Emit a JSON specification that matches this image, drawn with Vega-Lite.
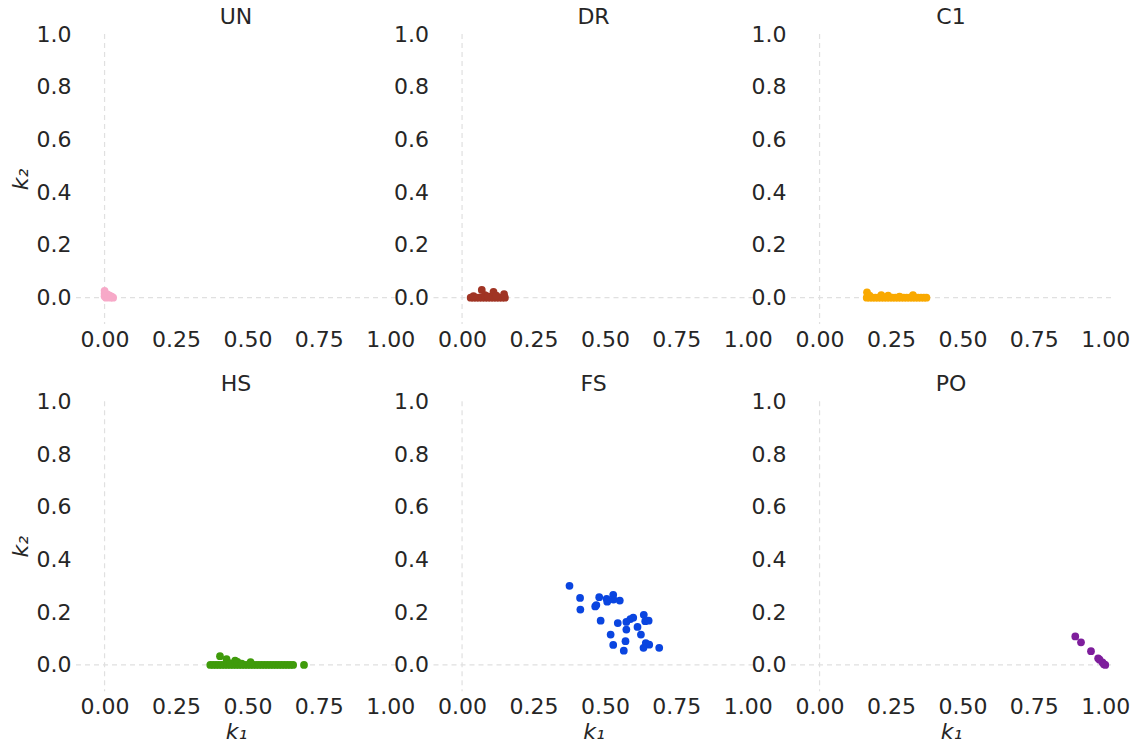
{
  "$schema": "https://vega.github.io/schema/vega-lite/v6.json",
  "background": "white",
  "padding": {"left": 9, "top": 6, "right": 5, "bottom": 3},
  "config": {
    "view": {"stroke": null},
    "font": "DejaVu Sans",
    "axis": {"domain": false, "ticks": false, "grid": false, "labelFont": "DejaVu Sans", "labelFontSize": 22, "labelColor": "#262626", "labelPadding": 5, "titleFont": "DejaVu Sans", "titleFontSize": 22, "titleFontStyle": "italic", "titleFontWeight": "normal", "titleColor": "#262626", "titlePadding": 4},
    "title": {"font": "DejaVu Sans", "fontSize": 22, "fontWeight": "normal", "color": "#262626", "anchor": "middle", "frame": "group", "offset": -6}
  },
  "datasets": {
    "pts": [
      {"g":"UN","k1":0.000,"k2":0.026},{"g":"UN","k1":0.000,"k2":0.015},{"g":"UN","k1":0.000,"k2":0.005},{"g":"UN","k1":0.005,"k2":0.000},{"g":"UN","k1":0.010,"k2":0.012},{"g":"UN","k1":0.012,"k2":0.005},{"g":"UN","k1":0.018,"k2":0.008},{"g":"UN","k1":0.020,"k2":0.000},{"g":"UN","k1":0.025,"k2":0.004},{"g":"UN","k1":0.030,"k2":0.000},
      {"g":"DR","k1":0.03,"k2":0},{"g":"DR","k1":0.04,"k2":0},{"g":"DR","k1":0.05,"k2":0},{"g":"DR","k1":0.06,"k2":0},{"g":"DR","k1":0.07,"k2":0},{"g":"DR","k1":0.08,"k2":0},{"g":"DR","k1":0.09,"k2":0},{"g":"DR","k1":0.10,"k2":0},{"g":"DR","k1":0.11,"k2":0},{"g":"DR","k1":0.12,"k2":0},{"g":"DR","k1":0.13,"k2":0},{"g":"DR","k1":0.14,"k2":0},{"g":"DR","k1":0.15,"k2":0},
      {"g":"DR","k1":0.04,"k2":0.006},{"g":"DR","k1":0.069,"k2":0.029},{"g":"DR","k1":0.08,"k2":0.010},{"g":"DR","k1":0.09,"k2":0.005},{"g":"DR","k1":0.11,"k2":0.022},{"g":"DR","k1":0.12,"k2":0.008},{"g":"DR","k1":0.147,"k2":0.013},
      {"g":"C1","k1":0.165,"k2":0},{"g":"C1","k1":0.175,"k2":0},{"g":"C1","k1":0.185,"k2":0},{"g":"C1","k1":0.195,"k2":0},{"g":"C1","k1":0.205,"k2":0},{"g":"C1","k1":0.215,"k2":0},{"g":"C1","k1":0.225,"k2":0},{"g":"C1","k1":0.235,"k2":0},{"g":"C1","k1":0.245,"k2":0},{"g":"C1","k1":0.255,"k2":0},{"g":"C1","k1":0.265,"k2":0},{"g":"C1","k1":0.275,"k2":0},{"g":"C1","k1":0.285,"k2":0},{"g":"C1","k1":0.295,"k2":0},{"g":"C1","k1":0.305,"k2":0},{"g":"C1","k1":0.315,"k2":0},{"g":"C1","k1":0.325,"k2":0},{"g":"C1","k1":0.335,"k2":0},{"g":"C1","k1":0.345,"k2":0},{"g":"C1","k1":0.355,"k2":0},{"g":"C1","k1":0.365,"k2":0},{"g":"C1","k1":0.374,"k2":0},
      {"g":"C1","k1":0.166,"k2":0.020},{"g":"C1","k1":0.175,"k2":0.008},{"g":"C1","k1":0.216,"k2":0.010},{"g":"C1","k1":0.240,"k2":0.008},{"g":"C1","k1":0.280,"k2":0.004},{"g":"C1","k1":0.327,"k2":0.010},
      {"g":"HS","k1":0.37,"k2":0},{"g":"HS","k1":0.38,"k2":0},{"g":"HS","k1":0.39,"k2":0},{"g":"HS","k1":0.40,"k2":0},{"g":"HS","k1":0.41,"k2":0},{"g":"HS","k1":0.42,"k2":0},{"g":"HS","k1":0.43,"k2":0},{"g":"HS","k1":0.44,"k2":0},{"g":"HS","k1":0.45,"k2":0},{"g":"HS","k1":0.46,"k2":0},{"g":"HS","k1":0.47,"k2":0},{"g":"HS","k1":0.48,"k2":0},{"g":"HS","k1":0.49,"k2":0},{"g":"HS","k1":0.50,"k2":0},{"g":"HS","k1":0.51,"k2":0},{"g":"HS","k1":0.52,"k2":0},{"g":"HS","k1":0.53,"k2":0},{"g":"HS","k1":0.54,"k2":0},{"g":"HS","k1":0.55,"k2":0},{"g":"HS","k1":0.56,"k2":0},{"g":"HS","k1":0.57,"k2":0},{"g":"HS","k1":0.58,"k2":0},{"g":"HS","k1":0.59,"k2":0},{"g":"HS","k1":0.60,"k2":0},{"g":"HS","k1":0.61,"k2":0},{"g":"HS","k1":0.62,"k2":0},{"g":"HS","k1":0.63,"k2":0},{"g":"HS","k1":0.64,"k2":0},{"g":"HS","k1":0.65,"k2":0},{"g":"HS","k1":0.66,"k2":0},{"g":"HS","k1":0.698,"k2":0},
      {"g":"HS","k1":0.404,"k2":0.033},{"g":"HS","k1":0.427,"k2":0.022},{"g":"HS","k1":0.440,"k2":0.006},{"g":"HS","k1":0.457,"k2":0.016},{"g":"HS","k1":0.465,"k2":0.012},{"g":"HS","k1":0.480,"k2":0.005},{"g":"HS","k1":0.511,"k2":0.011},
      {"g":"FS","k1":0.376,"k2":0.300},{"g":"FS","k1":0.413,"k2":0.254},{"g":"FS","k1":0.414,"k2":0.210},{"g":"FS","k1":0.480,"k2":0.257},{"g":"FS","k1":0.470,"k2":0.227},{"g":"FS","k1":0.466,"k2":0.222},{"g":"FS","k1":0.506,"k2":0.251},{"g":"FS","k1":0.508,"k2":0.240},{"g":"FS","k1":0.529,"k2":0.266},{"g":"FS","k1":0.530,"k2":0.248},{"g":"FS","k1":0.552,"k2":0.244},{"g":"FS","k1":0.485,"k2":0.168},{"g":"FS","k1":0.545,"k2":0.159},{"g":"FS","k1":0.575,"k2":0.163},{"g":"FS","k1":0.589,"k2":0.174},{"g":"FS","k1":0.599,"k2":0.179},{"g":"FS","k1":0.636,"k2":0.190},{"g":"FS","k1":0.641,"k2":0.166},{"g":"FS","k1":0.653,"k2":0.168},{"g":"FS","k1":0.614,"k2":0.144},{"g":"FS","k1":0.575,"k2":0.134},{"g":"FS","k1":0.520,"k2":0.115},{"g":"FS","k1":0.626,"k2":0.115},{"g":"FS","k1":0.572,"k2":0.090},{"g":"FS","k1":0.529,"k2":0.076},{"g":"FS","k1":0.643,"k2":0.083},{"g":"FS","k1":0.655,"k2":0.077},{"g":"FS","k1":0.635,"k2":0.065},{"g":"FS","k1":0.566,"k2":0.054},{"g":"FS","k1":0.690,"k2":0.065},
      {"g":"PO","k1":0.895,"k2":0.108},{"g":"PO","k1":0.915,"k2":0.086},{"g":"PO","k1":0.950,"k2":0.052},{"g":"PO","k1":0.975,"k2":0.025},{"g":"PO","k1":0.980,"k2":0.020},{"g":"PO","k1":0.990,"k2":0.010},{"g":"PO","k1":0.995,"k2":0.003},{"g":"PO","k1":1.000,"k2":0.000}
    ],
    "one": [{"z": 0}]
  },
  "data": {"name": "pts"},
  "columns": 3,
  "spacing": {"row": 77.3, "column": 37.5},
  "bounds": "flush",
  "concat": [
    {"title": "UN", "width": 320, "height": 290,
     "encoding": {
        "x": {"type": "quantitative", "scale": {"domain": [-0.1, 1.02], "nice": false, "zero": false}, "axis": {"values": [0, 0.25, 0.5, 0.75, 1], "format": ".2f", "title": null}},
        "y": {"type": "quantitative", "scale": {"domain": [-0.1, 1.0], "nice": false, "zero": false}, "axis": {"values": [0, 0.2, 0.4, 0.6, 0.8, 1.0], "format": ".1f", "title": "k₂"}}},
     "layer": [
      {"data": {"name": "one"}, "mark": {"type": "rule", "color": "#e0e0e0", "strokeWidth": 1.2, "strokeDash": [5, 4]}, "encoding": {"x": {"field": "z"}}},
      {"data": {"name": "one"}, "mark": {"type": "rule", "color": "#e0e0e0", "strokeWidth": 1.2, "strokeDash": [5, 4]}, "encoding": {"y": {"field": "z"}}},
      {"transform": [{"filter": "datum.g == 'UN'"}], "mark": {"type": "circle", "size": 60, "opacity": 1}, "encoding": {"x": {"field": "k1"}, "y": {"field": "k2"}, "color": {"value": "#f7a9c8"}}}
    ]},
    {"title": "DR", "width": 320, "height": 290,
     "encoding": {
        "x": {"type": "quantitative", "scale": {"domain": [-0.1, 1.02], "nice": false, "zero": false}, "axis": {"values": [0, 0.25, 0.5, 0.75, 1], "format": ".2f", "title": null}},
        "y": {"type": "quantitative", "scale": {"domain": [-0.1, 1.0], "nice": false, "zero": false}, "axis": {"values": [0, 0.2, 0.4, 0.6, 0.8, 1.0], "format": ".1f", "title": null}}},
     "layer": [
      {"data": {"name": "one"}, "mark": {"type": "rule", "color": "#e0e0e0", "strokeWidth": 1.2, "strokeDash": [5, 4]}, "encoding": {"x": {"field": "z"}}},
      {"data": {"name": "one"}, "mark": {"type": "rule", "color": "#e0e0e0", "strokeWidth": 1.2, "strokeDash": [5, 4]}, "encoding": {"y": {"field": "z"}}},
      {"transform": [{"filter": "datum.g == 'DR'"}], "mark": {"type": "circle", "size": 60, "opacity": 1}, "encoding": {"x": {"field": "k1"}, "y": {"field": "k2"}, "color": {"value": "#a03424"}}}
    ]},
    {"title": "C1", "width": 320, "height": 290,
     "encoding": {
        "x": {"type": "quantitative", "scale": {"domain": [-0.1, 1.02], "nice": false, "zero": false}, "axis": {"values": [0, 0.25, 0.5, 0.75, 1], "format": ".2f", "title": null}},
        "y": {"type": "quantitative", "scale": {"domain": [-0.1, 1.0], "nice": false, "zero": false}, "axis": {"values": [0, 0.2, 0.4, 0.6, 0.8, 1.0], "format": ".1f", "title": null}}},
     "layer": [
      {"data": {"name": "one"}, "mark": {"type": "rule", "color": "#e0e0e0", "strokeWidth": 1.2, "strokeDash": [5, 4]}, "encoding": {"x": {"field": "z"}}},
      {"data": {"name": "one"}, "mark": {"type": "rule", "color": "#e0e0e0", "strokeWidth": 1.2, "strokeDash": [5, 4]}, "encoding": {"y": {"field": "z"}}},
      {"transform": [{"filter": "datum.g == 'C1'"}], "mark": {"type": "circle", "size": 60, "opacity": 1}, "encoding": {"x": {"field": "k1"}, "y": {"field": "k2"}, "color": {"value": "#f9a900"}}}
    ]},
    {"title": "HS", "width": 320, "height": 290,
     "encoding": {
        "x": {"type": "quantitative", "scale": {"domain": [-0.1, 1.02], "nice": false, "zero": false}, "axis": {"values": [0, 0.25, 0.5, 0.75, 1], "format": ".2f", "title": "k₁"}},
        "y": {"type": "quantitative", "scale": {"domain": [-0.1, 1.0], "nice": false, "zero": false}, "axis": {"values": [0, 0.2, 0.4, 0.6, 0.8, 1.0], "format": ".1f", "title": "k₂"}}},
     "layer": [
      {"data": {"name": "one"}, "mark": {"type": "rule", "color": "#e0e0e0", "strokeWidth": 1.2, "strokeDash": [5, 4]}, "encoding": {"x": {"field": "z"}}},
      {"data": {"name": "one"}, "mark": {"type": "rule", "color": "#e0e0e0", "strokeWidth": 1.2, "strokeDash": [5, 4]}, "encoding": {"y": {"field": "z"}}},
      {"transform": [{"filter": "datum.g == 'HS'"}], "mark": {"type": "circle", "size": 60, "opacity": 1}, "encoding": {"x": {"field": "k1"}, "y": {"field": "k2"}, "color": {"value": "#3f9b0b"}}}
    ]},
    {"title": "FS", "width": 320, "height": 290,
     "encoding": {
        "x": {"type": "quantitative", "scale": {"domain": [-0.1, 1.02], "nice": false, "zero": false}, "axis": {"values": [0, 0.25, 0.5, 0.75, 1], "format": ".2f", "title": "k₁"}},
        "y": {"type": "quantitative", "scale": {"domain": [-0.1, 1.0], "nice": false, "zero": false}, "axis": {"values": [0, 0.2, 0.4, 0.6, 0.8, 1.0], "format": ".1f", "title": null}}},
     "layer": [
      {"data": {"name": "one"}, "mark": {"type": "rule", "color": "#e0e0e0", "strokeWidth": 1.2, "strokeDash": [5, 4]}, "encoding": {"x": {"field": "z"}}},
      {"data": {"name": "one"}, "mark": {"type": "rule", "color": "#e0e0e0", "strokeWidth": 1.2, "strokeDash": [5, 4]}, "encoding": {"y": {"field": "z"}}},
      {"transform": [{"filter": "datum.g == 'FS'"}], "mark": {"type": "circle", "size": 60, "opacity": 1}, "encoding": {"x": {"field": "k1"}, "y": {"field": "k2"}, "color": {"value": "#0a45e0"}}}
    ]},
    {"title": "PO", "width": 320, "height": 290,
     "encoding": {
        "x": {"type": "quantitative", "scale": {"domain": [-0.1, 1.02], "nice": false, "zero": false}, "axis": {"values": [0, 0.25, 0.5, 0.75, 1], "format": ".2f", "title": "k₁"}},
        "y": {"type": "quantitative", "scale": {"domain": [-0.1, 1.0], "nice": false, "zero": false}, "axis": {"values": [0, 0.2, 0.4, 0.6, 0.8, 1.0], "format": ".1f", "title": null}}},
     "layer": [
      {"data": {"name": "one"}, "mark": {"type": "rule", "color": "#e0e0e0", "strokeWidth": 1.2, "strokeDash": [5, 4]}, "encoding": {"x": {"field": "z"}}},
      {"data": {"name": "one"}, "mark": {"type": "rule", "color": "#e0e0e0", "strokeWidth": 1.2, "strokeDash": [5, 4]}, "encoding": {"y": {"field": "z"}}},
      {"transform": [{"filter": "datum.g == 'PO'"}], "mark": {"type": "circle", "size": 60, "opacity": 1}, "encoding": {"x": {"field": "k1"}, "y": {"field": "k2"}, "color": {"value": "#7e1e9c"}}}
    ]}
  ]
}
